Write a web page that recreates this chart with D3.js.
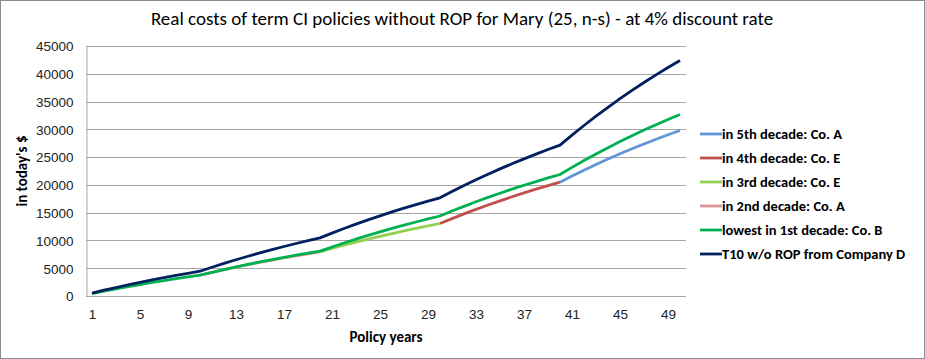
<!DOCTYPE html>
<html>
<head>
<meta charset="utf-8">
<script src="https://cdn.jsdelivr.net/npm/d3@7"></script>
<style>
  body { margin: 0; background: #fff; }
  svg { display: block; font-family: Carlito, Calibri, Lato, sans-serif; }
</style>
</head>
<body>
<svg id="chart" width="925" height="359"></svg>
<script>
// policy years 1..50
const years = d3.range(1, 51);
const yTicks = [0, 5000, 10000, 15000, 20000, 25000, 30000, 35000, 40000, 45000];
const xTickYears = [1, 5, 9, 13, 17, 21, 25, 29, 33, 37, 41, 45, 49];

// T10 w/o ROP from Company D (years 1-50)
const companyD = [
  529, 1038, 1527, 1997, 2449, 2884, 3302, 3704, 4091, 4463,
  5175, 5860, 6519, 7152, 7761, 8346, 8909, 9450, 9970, 10470,
  11325, 12147, 12937, 13697, 14428, 15131, 15807, 16457, 17082, 17680,
  18803, 19883, 20921, 21919, 22879, 23802, 24690, 25543, 26364, 27153,
  28957, 30694, 32364, 33970, 35515, 37000, 38428, 39801, 41121, 42391
];
// lowest in 1st decade: Co. B (years 1-50)
const coB = [
  446, 875, 1287, 1683, 2064, 2431, 2783, 3122, 3448, 3760,
  4271, 4762, 5234, 5688, 6125, 6545, 6949, 7337, 7710, 8070,
  8820, 9541, 10235, 10902, 11543, 12160, 12753, 13323, 13871, 14400,
  15286, 16138, 16957, 17745, 18502, 19230, 19930, 20603, 21251, 21870,
  23150, 24381, 25565, 26703, 27797, 28849, 29861, 30834, 31769, 32670
];
// in 2nd decade: Co. A (years 10-20)
const dec2Years = d3.range(10, 21);
const dec2 = [3760, 4257, 4735, 5194, 5636, 6061, 6469, 6862, 7239, 7602, 7950];
// in 3rd decade: Co. E (years 20-30)
const dec3Years = d3.range(20, 31);
const dec3 = [7950, 8555, 9136, 9695, 10232, 10749, 11246, 11724, 12183, 12625, 13050];
// in 4th decade: Co. E (years 30-40)
const dec4Years = d3.range(30, 41);
const dec4 = [13050, 13932, 14780, 15596, 16380, 17134, 17859, 18556, 19226, 19870, 20490];
// in 5th decade: Co. A (years 40-50)
const dec5Years = d3.range(40, 51);
const dec5 = [20490, 21593, 22653, 23672, 24652, 25594, 26500, 27371, 28209, 29015, 29790];

const seriesNames = [
  "in 5th decade: Co. A",
  "in 4th decade: Co. E",
  "in 3rd decade: Co. E",
  "in 2nd decade: Co. A",
  "lowest in 1st decade: Co. B",
  "T10 w/o ROP from Company D"
];
const seriesColors = ["#5F96D8", "#C0504D", "#92D050", "#D99694", "#00B050", "#002060"];

const series = [
  { x: dec5Years, y: dec5 },
  { x: dec4Years, y: dec4 },
  { x: dec3Years, y: dec3 },
  { x: dec2Years, y: dec2 },
  { x: years, y: coB },
  { x: years, y: companyD }
].map((s, i) => ({ name: seriesNames[i], color: seriesColors[i], pts: s.x.map((yr, j) => [yr, s.y[j]]) }));

const svg = d3.select("#chart");
const W = 925, H = 359;
const plotLeft = 86, plotRight = 686, plotTop = 46, plotBottom = 296;

// chart border
svg.append("rect")
  .attr("x", 0.5).attr("y", 0.5)
  .attr("width", W - 1).attr("height", H - 1)
  .attr("fill", "#fff").attr("stroke", "#8c8c8c");

const x = d3.scalePoint().domain(years).range([plotLeft, plotRight]).padding(0.5);
const y = d3.scaleLinear().domain([0, 45000]).range([plotBottom, plotTop]);

// gridlines
svg.append("g")
  .selectAll("line")
  .data(yTicks.slice(1))
  .join("line")
  .attr("x1", plotLeft).attr("x2", plotRight)
  .attr("y1", d => Math.round(y(d)) + 0.5).attr("y2", d => Math.round(y(d)) + 0.5)
  .attr("stroke", "#a6a6a6");

// y axis
const yAxis = svg.append("g")
  .attr("transform", `translate(${plotLeft + 0.5},0.5)`)
  .call(d3.axisLeft(y).tickValues(yTicks).tickSize(0).tickPadding(13).tickFormat(d3.format("d")));
yAxis.select(".domain").attr("stroke", "#a6a6a6");
yAxis.selectAll("text").attr("font-size", 13.5).attr("fill", "#222").attr("font-family", "inherit");

// x axis
const xAxis = svg.append("g")
  .attr("transform", `translate(0,${plotBottom + 0.5})`)
  .call(d3.axisBottom(x).tickValues(xTickYears).tickSize(0).tickPadding(13));
xAxis.select(".domain").attr("stroke", "#a6a6a6").attr("d", `M${plotLeft},0H${plotRight}`);
xAxis.selectAll("text").attr("font-size", 13.5).attr("fill", "#222").attr("font-family", "inherit");

// lines
const line = d3.line().x(d => x(d[0])).y(d => y(d[1]));
svg.append("g")
  .selectAll("path")
  .data(series)
  .join("path")
  .attr("d", d => line(d.pts))
  .attr("fill", "none")
  .attr("stroke", d => d.color)
  .attr("stroke-width", 2.8)
  .attr("stroke-linejoin", "round");

// title
svg.append("text")
  .attr("x", 462).attr("y", 25)
  .attr("text-anchor", "middle")
  .attr("font-size", 19)
  .attr("fill", "#000")
  .text("Real costs of term CI policies without ROP for Mary (25, n-s) - at 4% discount rate");

// axis titles
svg.append("text")
  .attr("transform", `translate(27,${(plotTop + plotBottom) / 2}) rotate(-90)`)
  .attr("text-anchor", "middle")
  .attr("font-size", 15).attr("font-weight", "bold")
  .text("in today's $");

svg.append("text")
  .attr("x", (plotLeft + plotRight) / 2).attr("y", 342)
  .attr("text-anchor", "middle")
  .attr("font-size", 15).attr("font-weight", "bold")
  .text("Policy years");

// legend
const legend = svg.append("g")
  .selectAll("g")
  .data(series)
  .join("g")
  .attr("transform", (d, i) => `translate(700,${134 + i * 24})`);
legend.append("line")
  .attr("x1", 0).attr("x2", 22)
  .attr("stroke", d => d.color).attr("stroke-width", 2.8);
legend.append("text")
  .attr("x", 22).attr("dy", "0.35em")
  .attr("font-size", 14.5).attr("font-weight", "bold")
  .text(d => d.name);
</script>
</body>
</html>
